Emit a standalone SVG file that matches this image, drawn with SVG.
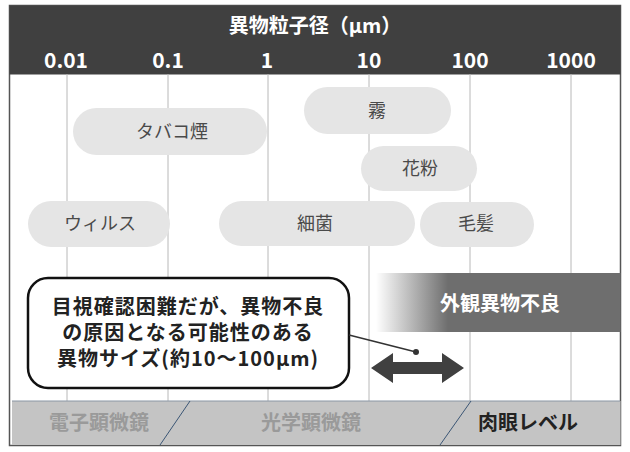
<svg xmlns="http://www.w3.org/2000/svg" width="630" height="452" viewBox="0 0 630 452">
<defs>
<linearGradient id="gr" gradientUnits="userSpaceOnUse" x1="376" y1="0" x2="448" y2="0">
<stop offset="0" stop-color="#ffffff"/>
<stop offset="1" stop-color="#6e6e6e"/>
</linearGradient>
</defs>
<style>
text{font-family:"Noto Sans CJK JP","Noto Sans",sans-serif;text-anchor:middle}
.grid{stroke:#b8b8b8;stroke-width:1}
.pill{fill:#e5e5e5}
.pt{font-size:18px;fill:#4a4a4a}
.num{font-size:21px;font-weight:bold;fill:#ffffff}
.band{font-size:20px;font-weight:bold}
.co{font-size:20px;font-weight:bold;fill:#222;letter-spacing:1px}
</style>
<rect x="9.5" y="5.5" width="611" height="440" fill="#ffffff" stroke="#555" stroke-width="1.5"/>
<g id="header">
<rect x="9.5" y="5.5" width="611" height="69" fill="#404040"/>
<text x="315" y="33" style="font-size:20px;font-weight:bold;fill:#fff">異物粒子径（μm）</text>
<text class="num" x="66" y="68">0.01</text>
<text class="num" x="168" y="68">0.1</text>
<text class="num" x="267" y="68">1</text>
<text class="num" x="369" y="68">10</text>
<text class="num" x="470" y="68">100</text>
<text class="num" x="571" y="68">1000</text>
</g>
<g id="gridlines">
<line class="grid" x1="67" y1="74" x2="67" y2="401"/>
<line class="grid" x1="168" y1="74" x2="168" y2="401"/>
<line class="grid" x1="268" y1="74" x2="268" y2="401"/>
<line class="grid" x1="369" y1="74" x2="369" y2="401"/>
<line class="grid" x1="470" y1="74" x2="470" y2="401"/>
<line class="grid" x1="571" y1="74" x2="571" y2="401"/>
</g>
<g id="kiri"><rect class="pill" x="304" y="87" width="147" height="47" rx="23.5"/><text class="pt" x="377" y="117">霧</text></g>
<g id="tabako"><rect class="pill" x="73" y="108" width="194" height="47" rx="23.5"/><text class="pt" x="172" y="138">タバコ煙</text></g>
<g id="kafun"><rect class="pill" x="361" y="146" width="116" height="45" rx="22.5"/><text class="pt" x="420" y="175">花粉</text></g>
<g id="virus"><rect class="pill" x="28" y="201" width="142" height="46" rx="23"/><text class="pt" x="100" y="230">ウィルス</text></g>
<g id="saikin"><rect class="pill" x="219" y="201" width="196" height="45" rx="22.5"/><text class="pt" x="315" y="230">細菌</text></g>
<g id="mouhatsu"><rect class="pill" x="420" y="202" width="114" height="45" rx="22.5"/><text class="pt" x="476" y="230">毛髪</text></g>
<g id="gaikan">
<rect x="376" y="273" width="244.5" height="59" fill="url(#gr)"/>
<text x="500" y="311" style="font-size:20px;font-weight:bold;fill:#fff">外観異物不良</text>
</g>
<g id="callout">
<rect x="28" y="278" width="321" height="110" rx="20" fill="#fff" stroke="#111" stroke-width="2.5"/>
<text class="co" x="188" y="314">目視確認困難だが、異物不良</text>
<text class="co" x="188" y="340">の原因となる可能性のある</text>
<text class="co" x="188" y="366">異物サイズ(約10～100μm)</text>
</g>
<g id="connectors">
<line x1="349" y1="335" x2="416" y2="352" stroke="#333" stroke-width="1.5"/>
<circle cx="416" cy="352" r="3" fill="#333"/>
<polygon points="371,368 393,353 393,362 442,362 442,353 464,368 442,383 442,374 393,374 393,383" fill="#404040"/>
</g>
<g id="band">
<rect x="12" y="401" width="608.5" height="44" fill="#c4c4c4"/>
<line x1="12" y1="401" x2="620" y2="401" stroke="#8a96a4" stroke-width="1"/>
<line x1="190" y1="401" x2="160" y2="445" stroke="#3b5675" stroke-width="1"/>
<line x1="471" y1="401" x2="440" y2="445" stroke="#3b5675" stroke-width="1"/>
<text class="band" x="99" y="430" fill="#9a9a9a">電子顕微鏡</text>
<text class="band" x="311" y="430" fill="#9a9a9a">光学顕微鏡</text>
<text class="band" x="528" y="430" fill="#222">肉眼レベル</text>
</g>
</svg>
